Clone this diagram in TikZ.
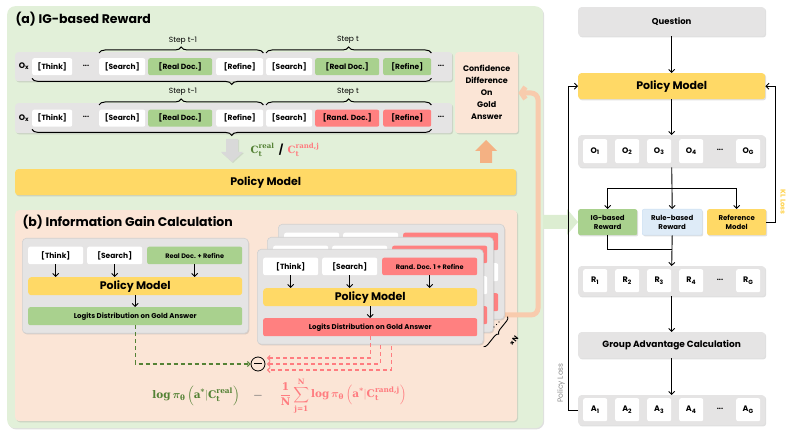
\documentclass[tikz,border=0pt]{standalone}
\usepackage[no-math]{fontspec}
\setmainfont{Poppins}
\newfontfamily\fser{DejaVu Serif}
\usepackage{amsmath,bm}
\usetikzlibrary{arrows.meta,decorations.pathreplacing,shadows,calc}
\definecolor{pgreen}{HTML}{E2F0D9}
\definecolor{porange}{HTML}{FBE5D6}
\definecolor{ylw}{HTML}{FFD966}
\definecolor{bgreen}{HTML}{A9D18E}
\definecolor{bred}{HTML}{FF8080}
\definecolor{bgray}{HTML}{E5E4E4}
\definecolor{dgreen}{HTML}{548235}
\definecolor{pinkt}{HTML}{FF7C80}
\definecolor{oarrow}{HTML}{F4B183}
\definecolor{oline}{HTML}{F8CBAD}
\definecolor{lblue}{HTML}{DEEBF7}
\definecolor{lbluee}{HTML}{C9DDF2}
\definecolor{kly}{HTML}{FFD34F}
\definecolor{garrow}{HTML}{D9D9D9}
\definecolor{lgarrow}{HTML}{DCEDD1}
\newcommand{\fb}[1]{\text{\fser\bfseries #1}}
\newcommand{\mkbox}[7]{\node[#1,minimum width={(#5)-(#3)},minimum height={(#6)-(#4)}] (#2) at ({#3},{#4}) {#7};}
\tikzset{
  shd/.style={drop shadow={shadow xshift=1pt,shadow yshift=-1.2pt,opacity=0.25}},
  bx/.style={anchor=north west,inner sep=0pt,rounded corners=2pt,align=center,
    font=\bfseries\fontsize{7.5}{9}\selectfont},
  wb/.style={bx,fill=white},
  gb/.style={bx,fill=bgreen},
  rb/.style={bx,fill=bred},
  yb/.style={bx,fill=ylw,rounded corners=3pt},
  band/.style={bx,fill=bgray,rounded corners=3pt},
  card/.style={bx,fill=bgray,rounded corners=4pt,draw=black!18,line width=0.6pt},
  big/.style={font=\bfseries\fontsize{11}{13}\selectfont},
  small/.style={font=\bfseries\fontsize{6.5}{8}\selectfont},
  logit/.style={font=\bfseries\fontsize{7}{8}\selectfont},
  rwd/.style={font=\bfseries\fontsize{7}{9}\selectfont},
  ofont/.style={font=\bfseries\fontsize{8}{9}\selectfont},
  dotsn/.style={font=\bfseries\fontsize{7.5}{9}\selectfont},
  steplbl/.style={font=\fontsize{7.5}{9}\selectfont},
  title/.style={anchor=west,font=\bfseries\fontsize{12.5}{15}\selectfont},
  brc/.style={decorate,decoration={brace,amplitude=6pt},line width=1pt},
  brcm/.style={decorate,decoration={brace,amplitude=6pt,mirror},line width=1pt},
  arr/.style={line width=0.9pt,-{Straight Barb[length=3pt,width=6pt]}},
  ln/.style={line width=0.9pt},
  gdash/.style={dgreen,line width=1.1pt,dash pattern=on 4pt off 3pt,-{Straight Barb[length=2.5pt,width=5pt]}},
  rdash/.style={pinkt,line width=1.1pt,dash pattern=on 4pt off 3pt,-{Straight Barb[length=2.5pt,width=5pt]}},
  oconn/.style={oline,line width=5pt,rounded corners=7pt,-{Straight Barb[length=4pt,width=12pt]}},
  fml/.style={font=\fontsize{10.5}{13}\selectfont},
}
\newcommand{\mkcard}[6]{%
  \mkbox{card,shd}{#1}{#2}{#3}{#2+226}{#3+95}{}
  \mkbox{wb}{#1t}{#2+6}{#3+8.5}{#2+61}{#3+26}{[Think]}
  \mkbox{wb}{#1s}{#2+65}{#3+8.5}{#2+120}{#3+26}{[Search]}
  \mkbox{#4,small}{#1d}{#2+125}{#3+8.5}{#2+220}{#3+26}{#5}
  \mkbox{#6,big}{#1p}{#2+6}{#3+39}{#2+220}{#3+57}{Policy Model}
  \mkbox{#4,logit}{#1l}{#2+6}{#3+69}{#2+220}{#3+87}{Logits Distribution on Gold Answer}
  \draw[arr] (#1t.south) -- (#1t.south |- #1p.north);
  \draw[arr] (#1s.south) -- (#1s.south |- #1p.north);
  \draw[arr] (#1d.south) -- (#1d.south |- #1p.north);
  \draw[arr] (#1p.south) -- (#1l.north);
}
\newcommand{\mkbackcard}[3]{%
  \mkbox{card,shd}{#1}{#2}{#3}{#2+226}{#3+95}{}
  \mkbox{wb}{#1t}{#2+6}{#3+8.5}{#2+61}{#3+26}{}
  \mkbox{wb}{#1s}{#2+65}{#3+8.5}{#2+120}{#3+26}{}
  \mkbox{rb}{#1d}{#2+125}{#3+8.5}{#2+220}{#3+26}{}
  \mkbox{wb}{#1p}{#2+6}{#3+39}{#2+220}{#3+57}{}
  \mkbox{rb}{#1l}{#2+6}{#3+69}{#2+220}{#3+87}{}
}
\begin{document}
\begin{tikzpicture}[x=1pt,y=-1pt]
\useasboundingbox (0,0) rectangle (793,435);
% ---------------- panel (a)
\mkbox{bx,fill=pgreen,rounded corners=8pt,shd}{pa}{7}{6}{543}{428}{}
\fill[lgarrow] (543,215) -- (567,215) -- (567,209) -- (578,222) -- (567,235) -- (567,229) -- (543,229) -- cycle;
\node[title] (ta) at (12,19) {(a) IG-based Reward};
% row 1
\mkbox{band,shd}{r1}{15}{52}{452}{81}{}
\node[ofont] (ox1) at (24,66.5) {O\textsubscript{x}};
\mkbox{wb}{r1a}{32}{58}{72}{75}{[Think]}
\node[dotsn] (r1b) at (86,65.5) {...};
\mkbox{wb}{r1c}{99}{58}{145}{75}{[Search]}
\mkbox{gb}{r1d}{148}{58}{212}{75}{[Real Doc.]}
\mkbox{wb}{r1e}{216}{58}{263}{75}{[Refine]}
\mkbox{wb}{r1f}{266}{58}{312}{75}{[Search]}
\mkbox{gb}{r1g}{315}{58}{379}{75}{[Real Doc.]}
\mkbox{gb}{r1h}{383}{58}{431}{75}{[Refine]}
\node[dotsn] (r1i) at (441,65.5) {...};
\draw[brc] ($(r1c.north west)+(0,-5)$) -- ($(r1e.north east)+(0,-5)$);
\draw[brc] ($(r1f.north west)+(0,-5)$) -- ($(r1h.north east)+(0,-5)$);
\node[steplbl] (s1a) at (183,41) {Step t-1};
\node[steplbl] (s1b) at (348,40) {Step t};
\draw[brcm] ($(r1a.south west)+(0,3)$) -- ($(r1h.south east)+(0,3)$);
% row 2
\mkbox{band,shd}{r2}{15}{103}{452}{133}{}
\node[ofont] (ox2) at (24,118) {O\textsubscript{x}};
\mkbox{wb}{r2a}{32}{109.5}{72}{126.5}{[Think]}
\node[dotsn] (r2b) at (86,117) {...};
\mkbox{wb}{r2c}{99}{109.5}{145}{126.5}{[Search]}
\mkbox{gb}{r2d}{148}{109.5}{212}{126.5}{[Real Doc.]}
\mkbox{wb}{r2e}{216}{109.5}{263}{126.5}{[Refine]}
\mkbox{wb}{r2f}{266}{109.5}{312}{126.5}{[Search]}
\mkbox{rb}{r2g}{315}{109.5}{379}{126.5}{[Rand. Doc.]}
\mkbox{rb}{r2h}{383}{109.5}{431}{126.5}{[Refine]}
\node[dotsn] (r2i) at (441,117) {...};
\draw[brc] ($(r2c.north west)+(0,-4.5)$) -- ($(r2e.north east)+(0,-4.5)$);
\draw[brc] ($(r2f.north west)+(0,-4.5)$) -- ($(r2h.north east)+(0,-4.5)$);
\node[steplbl] (s2a) at (183,92) {Step t-1};
\node[steplbl] (s2b) at (348,92) {Step t};
\draw[brcm] ($(r2a.south west)+(0,2.5)$) -- ($(r2h.south east)+(0,2.5)$);
% confidence box
\mkbox{bx,fill=porange,rounded corners=3pt,shd,font=\bfseries\fontsize{8}{12}\selectfont}{conf}{455}{52}{518}{133}{Confidence\\Difference\\On\\Gold\\Answer}
% block arrows
\fill[garrow,drop shadow={shadow xshift=1pt,shadow yshift=-1pt,opacity=0.2}] (226,139) -- (238,139) -- (238,152) -- (243,152) -- (232,162) -- (221,152) -- (226,152) -- cycle;
\fill[oarrow] (480,163) -- (492,163) -- (492,151) -- (497,151) -- (486,140) -- (475,151) -- (480,151) -- cycle;
\node[font=\fontsize{10}{12}\selectfont] (clab) at (285,150) {$\textcolor{dgreen}{\fb{C}_{\fb{t}}^{\fb{real}}}$ {\bfseries\,/\,} $\textcolor{pinkt}{\fb{C}_{\fb{t}}^{\fb{rand,j}}}$};
% policy model (a)
\mkbox{yb,big,shd}{pma}{15}{169}{516}{195}{Policy Model}
% ---------------- panel (b)
\mkbox{bx,fill=porange,rounded corners=4pt,shd}{pb}{15}{210}{517}{421}{}
\node[title] (tb) at (19,222) {(b) Information Gain Calculation};
\mkcard{lc}{22}{238}{gb}{Real Doc. + Refine}{yb}
\draw[oconn] (505,315) -- (538,315) -- (538,93) -- (conf.east |- 0,93);
\mkbackcard{bk}{278}{224}
\mkbackcard{md}{267}{237}
\node[circle,draw,minimum size=14pt,inner sep=0pt,line width=0.8pt] (minus) at (258,364) {};
\draw[line width=1pt] ($(minus.center)+(-4,0)$) -- ($(minus.center)+(4,0)$);
\draw[rdash] (mdl.south) |- ($(minus.east)+(1.5,0)$);
\draw[rdash] (bkl.south) |- ($(minus.east)+(1.5,6)$);
\mkcard{fr}{257}{249}{rb}{Rand. Doc. 1 + Refine}{yb}
\draw[rdash] (frl.south) |- ($(minus.east)+(1.5,-6)$);
\draw[gdash] (lcl.south) |- (minus.west);
\draw[decorate,decoration={brace,amplitude=4pt,mirror},line width=0.9pt] ($(fr.south east)+(0,2)$) -- ($(bk.south east)+(3,-3)$);
\node[rotate=52,font=\bfseries\fontsize{7}{8}\selectfont,inner sep=1pt] (xn) at (514,341) {×N};
\foreach \i in {0,1,2} \fill (494+2.5*\i,327-2.5*\i) circle (0.6);
% formula
\node[text=dgreen,fml] (f1) at (196,396) {$\fb{log}\,\bm{\pi}_{\fb{θ}}\left(\fb{a}^{\fb{*}}|\fb{C}_{\fb{t}}^{\fb{real}}\right)$};
\node[text=black!55,fml] (f2) at (258,396) {$\bm{-}$};
\node[text=pinkt,fml] (f3) at (343,396) {$\displaystyle\frac{\fb{1}}{\fb{N}}\sum_{\fb{j=1}}^{\fb{N}}\fb{log}\,\bm{\pi}_{\fb{θ}}\left(\fb{a}^{\fb{*}}|\fb{C}_{\fb{t}}^{\fb{rand,j}}\right)$};
% ---------------- right side
\mkbox{band,shd,font=\bfseries\fontsize{8.5}{10}\selectfont}{q}{578}{7}{765}{36}{Question}
\mkbox{yb,big,shd}{pmr}{578}{73}{765}{99}{Policy Model}
\draw[arr] (q) -- (pmr);
\mkbox{band,shd}{ob}{578}{135}{765}{167}{}
\mkbox{wb,ofont}{o1}{583}{139}{607}{163}{O\textsubscript{1}}
\mkbox{wb,ofont}{o2}{615}{139}{639}{163}{O\textsubscript{2}}
\mkbox{wb,ofont}{o3}{647}{139}{671}{163}{O\textsubscript{3}}
\mkbox{wb,ofont}{o4}{679}{139}{703}{163}{O\textsubscript{4}}
\node[dotsn] (o5) at (720,150) {...};
\mkbox{wb,ofont}{o6}{736}{139}{760}{163}{O\textsubscript{G}}
\draw[arr] (pmr) -- (ob);
\mkbox{bx,fill=bgreen,rwd,shd}{ig}{578}{209}{637}{235}{IG-based\\Reward}
\mkbox{bx,fill=lblue,draw=lbluee,rwd,shd}{rule}{642}{209}{702}{235}{Rule-based\\Reward}
\mkbox{bx,fill=ylw,rwd,shd}{ref}{707}{209}{766}{235}{Reference\\Model}
\coordinate (br) at (672,188);
\draw[ln] (ob.south) -- (br);
\draw[arr] (br) -| (ig.north);
\draw[arr] (br) -| (ref.north);
\draw[arr] (br) -- (rule.north);
\mkbox{band,shd}{rr}{578}{266}{765}{296}{}
\mkbox{wb,ofont}{a1}{583}{269}{607}{292}{R\textsubscript{1}}
\mkbox{wb,ofont}{a2}{615}{269}{639}{292}{R\textsubscript{2}}
\mkbox{wb,ofont}{a3}{647}{269}{671}{292}{R\textsubscript{3}}
\mkbox{wb,ofont}{a4}{679}{269}{703}{292}{R\textsubscript{4}}
\node[dotsn] (a5) at (720,280) {...};
\mkbox{wb,ofont}{a6}{736}{269}{760}{292}{R\textsubscript{G}}
\coordinate (mg) at (672,249);
\draw[ln] (ig.south) |- (mg);
\draw[arr] (rule.south) -- (rr.north);
\mkbox{band,shd,font=\bfseries\fontsize{9}{11}\selectfont}{gac}{578}{332}{765}{358}{Group Advantage Calculation}
\draw[arr] (rr) -- (gac);
\mkbox{band,shd}{ab}{578}{395}{765}{425}{}
\mkbox{wb,ofont}{b1}{583}{398}{607}{421}{A\textsubscript{1}}
\mkbox{wb,ofont}{b2}{615}{398}{639}{421}{A\textsubscript{2}}
\mkbox{wb,ofont}{b3}{647}{398}{671}{421}{A\textsubscript{3}}
\mkbox{wb,ofont}{b4}{679}{398}{703}{421}{A\textsubscript{4}}
\node[dotsn] (b5) at (720,409) {...};
\mkbox{wb,ofont}{b6}{736}{398}{760}{421}{A\textsubscript{G}}
\draw[arr] (gac) -- (ab);
\draw[arr] (ab.west) -- ++(-10,0) |- (pmr.west);
\draw[arr] (ref.east) -- ++(9,0) |- (pmr.east);
\node[rotate=90,text=black!45,font=\fontsize{7.5}{9}\selectfont] (pl) at (561,383) {Policy Loss};
\node[rotate=-90,text=kly,font=\bfseries\fontsize{7}{9}\selectfont] (kl) at (783,202) {KL Loss};
\end{tikzpicture}
\end{document}
